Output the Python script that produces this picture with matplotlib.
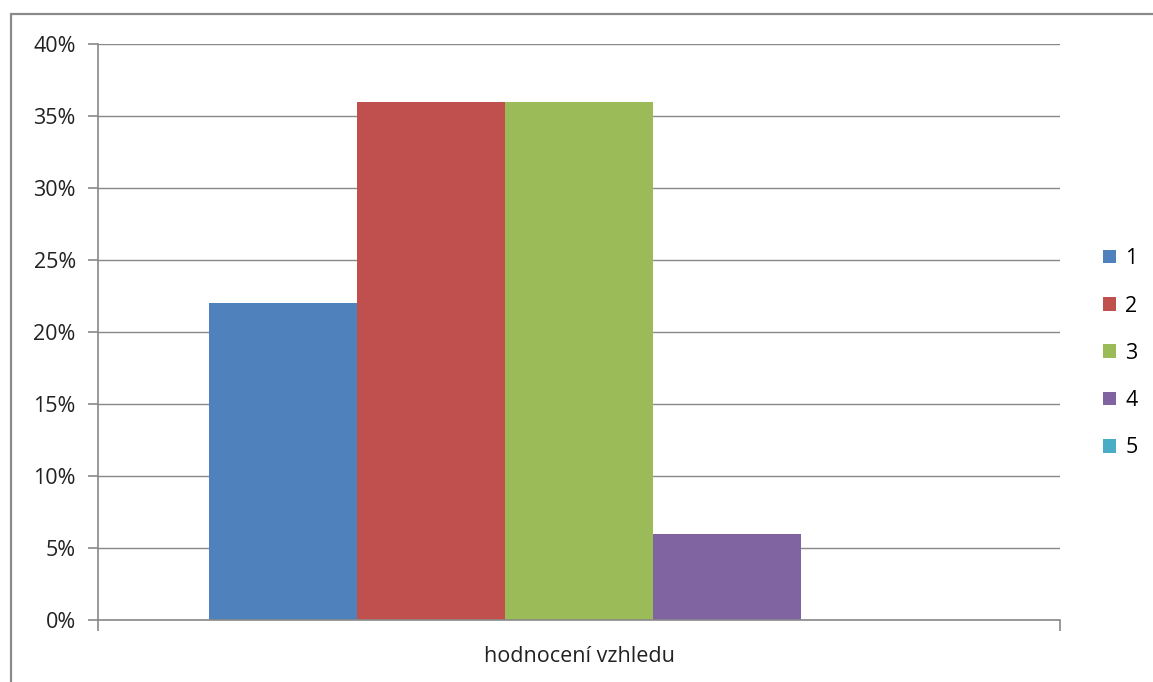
import matplotlib
matplotlib.use("Agg")
import matplotlib.pyplot as plt
from matplotlib.patches import Rectangle, Patch
from matplotlib.ticker import FuncFormatter

category = "hodnocení vzhledu"
ratings = ["1", "2", "3", "4", "5"]
shares = [22, 36, 36, 6, 0]  # percent
colors = ["#4F81BD", "#C0504D", "#9BBB59", "#8064A2", "#4BACC6"]
y_ticks = [0, 5, 10, 15, 20, 25, 30, 35, 40]

plt.rcParams["font.family"] = ["Open Sans", "DejaVu Sans"]
grid_col = "#898989"
fs = 15.5

fig = plt.figure(figsize=(11.53, 6.82), dpi=100)
ax = fig.add_axes([0.085, 0.0909, 0.8343, 0.8446])

w = 0.1538
for i, (r, v, c) in enumerate(zip(ratings, shares, colors)):
    ax.bar((i - 2) * w, v, width=w, color=c, label=r, zorder=3)

ax.set_xlim(-0.5, 0.5)
ax.set_ylim(0, 40)
ax.set_yticks(y_ticks)
ax.yaxis.set_major_formatter(FuncFormatter(lambda v, p: f"{v:.0f}%"))
ax.grid(axis="y", color=grid_col, linewidth=1.0, zorder=0)

ax.set_xticks([0])
ax.set_xticklabels([category])
ax.set_xticks([-0.5, 0.5], minor=True)
ax.tick_params(axis="x", which="major", length=0, pad=19, labelsize=fs, colors="#222222")
ax.tick_params(axis="x", which="minor", length=8, width=1.2, color=grid_col)
ax.tick_params(axis="y", length=7, width=1.2, color=grid_col, labelsize=fs, labelcolor="#222222", pad=9)

for s in ["top", "right"]:
    ax.spines[s].set_visible(False)
for s in ["left", "bottom"]:
    ax.spines[s].set_color(grid_col)
    ax.spines[s].set_linewidth(1.2)
ax.spines["bottom"].set_zorder(4)

handles = [Patch(facecolor=c, edgecolor="none") for c in colors]
fig.legend(handles, ratings, loc="center left", bbox_to_anchor=(0.947, 0.482),
           frameon=False, handlelength=0.6, handleheight=0.6, handletextpad=0.45,
           labelspacing=1.22, fontsize=fs, borderpad=0)

# outer chart frame
fig.add_artist(Rectangle((11 / 1153, -0.2), 2.0, 1.2 - 14 / 682,
                         transform=fig.transFigure, fill=False,
                         edgecolor="#8a8a8a", linewidth=1.6, clip_on=False))

fig.savefig("out.png", dpi=100)
